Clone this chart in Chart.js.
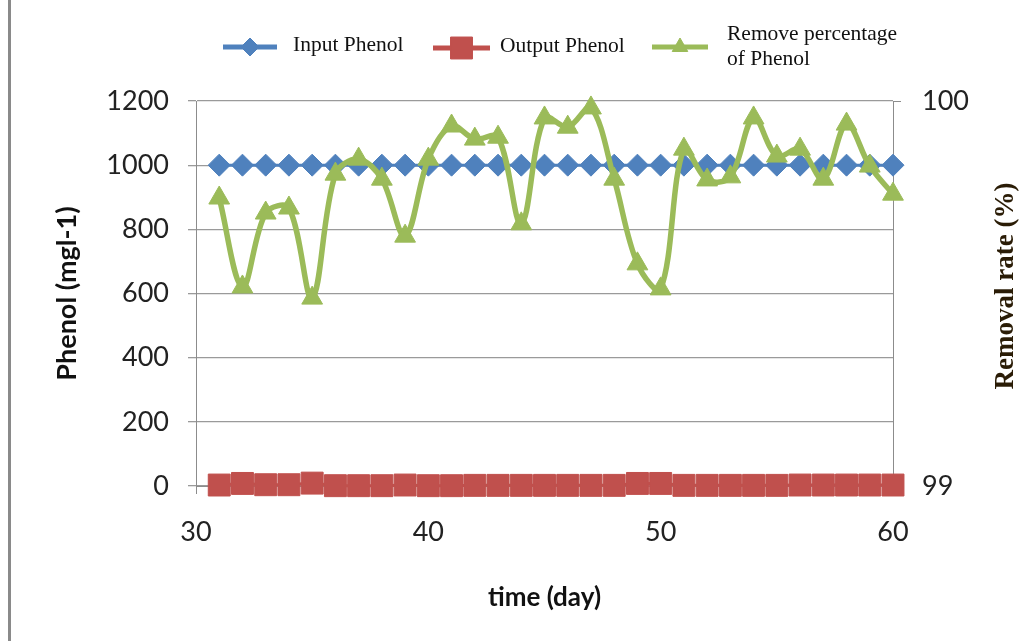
<!DOCTYPE html>
<html>
<head>
<meta charset="utf-8">
<title>Phenol removal</title>
<script src="https://cdn.jsdelivr.net/npm/chart.js@4.4.1/dist/chart.umd.min.js"></script>
<style>
  html, body { margin: 0; padding: 0; background: #ffffff; }
  #wrap { position: relative; width: 1021px; height: 641px; }
  #wrap canvas { position: absolute; left: 0; top: 0; }
  #frame { position: absolute; left: 8px; top: 0; width: 3px; height: 641px; background: #8a8a8a; }
</style>
</head>
<body>
<div id="wrap">
  <canvas id="chart" width="1021" height="641"></canvas>
  <div id="frame"></div>
</div>
<script>
// Sampling days
const days = [31, 32, 33, 34, 35, 36, 37, 38, 39, 40,
              41, 42, 43, 44, 45, 46, 47, 48, 49, 50,
              51, 52, 53, 54, 55, 56, 57, 58, 59, 60];

// Influent phenol concentration (mg/l)
const inputPhenol = [1000, 1000, 1000, 1000, 1000, 1000, 1000, 1000, 1000, 1000,
                     1000, 1000, 1000, 1000, 1000, 1000, 1000, 1000, 1000, 1000,
                     1000, 1000, 1000, 1000, 1000, 1000, 1000, 1000, 1000, 1000];

// Effluent phenol concentration (mg/l)
const outputPhenol = [3, 8, 4, 4, 9, 1, 1, 1, 3, 1,
                      1, 2, 2, 2, 2, 2, 2, 2, 8, 8,
                      2, 2, 2, 2, 2, 3, 3, 3, 3, 3];

// Removal percentage of phenol (%)
const removalRate = [99.748, 99.517, 99.709, 99.722, 99.488, 99.810, 99.849, 99.797, 99.649, 99.849,
                     99.935, 99.901, 99.906, 99.681, 99.956, 99.932, 99.982, 99.797, 99.577, 99.512,
                     99.875, 99.795, 99.803, 99.956, 99.857, 99.875, 99.797, 99.940, 99.831, 99.758];

// Axis ranges and tick steps
const dayRange = [30, 60];
const phenolRange = [0, 1200];
const rateRange = [99, 100];

const BLUE = '#4F81BD';
const RED = '#C0504D';
const GREEN = '#9BBB59';

const toPoints = (vals) => days.map((d, i) => ({ x: d, y: vals[i] }));
const plainNumber = (v) => String(v);

// Legend drawn across the top, with a two-line entry for the removal series
const topLegend = {
  id: 'topLegend',
  afterDraw(chart) {
    const ctx = chart.ctx;
    const entries = [
      { ds: 0, x1: 223, x2: 277, my: 47, marker: 9, lw: 5, tx: 293, lines: [[51, 'Input Phenol']] },
      { ds: 1, x1: 433, x2: 490, my: 48, marker: 15.5, lw: 5, tx: 500, lines: [[52, 'Output Phenol']] },
      { ds: 2, x1: 652, x2: 708, my: 47, marker: 9, lw: 5, tx: 727, lines: [[40, 'Remove percentage'], [65, 'of Phenol']] }
    ];
    ctx.save();
    entries.forEach(e => {
      const ds = chart.data.datasets[e.ds];
      ctx.strokeStyle = ds.borderColor;
      ctx.lineWidth = e.lw;
      ctx.beginPath();
      ctx.moveTo(e.x1, e.my);
      ctx.lineTo(e.x2, e.my);
      ctx.stroke();
      ctx.fillStyle = ds.pointBackgroundColor;
      ctx.strokeStyle = ds.pointBorderColor;
      ctx.lineWidth = 1;
      Chart.helpers.drawPoint(ctx, {
        pointStyle: ds.pointStyle, radius: e.marker, rotation: 0, borderWidth: 1
      }, (e.x1 + e.x2) / 2, e.my);
      ctx.fillStyle = '#111111';
      ctx.font = '21.5px "Liberation Serif", "Times New Roman", serif';
      ctx.textAlign = 'left';
      ctx.textBaseline = 'alphabetic';
      e.lines.forEach(([y, t]) => ctx.fillText(t, e.tx, y));
    });
    ctx.restore();
  }
};

// Title of the right-hand axis, reading upwards like the left one
const rightAxisTitle = {
  id: 'rightAxisTitle',
  afterDraw(chart) {
    const ctx = chart.ctx;
    ctx.save();
    ctx.translate(1006, 286);
    ctx.rotate(-Math.PI / 2);
    ctx.fillStyle = '#2a1c06';
    ctx.font = 'bold 27px "Liberation Serif", "Times New Roman", serif';
    ctx.textAlign = 'center';
    ctx.textBaseline = 'middle';
    ctx.fillText('Removal rate (%)', 0, 0);
    ctx.restore();
  }
};

const tickFont = { family: 'Lato', size: 27 };

new Chart(document.getElementById('chart'), {
  type: 'line',
  data: {
    datasets: [
      {
        label: 'Input Phenol',
        data: toPoints(inputPhenol),
        yAxisID: 'y',
        borderColor: BLUE,
        backgroundColor: BLUE,
        pointBackgroundColor: BLUE,
        pointBorderColor: BLUE,
        borderWidth: 3,
        pointStyle: 'rectRot',
        pointRadius: 11,
        pointBorderWidth: 1,
        tension: 0,
        clip: false,
        order: 2
      },
      {
        label: 'Output Phenol',
        data: toPoints(outputPhenol),
        yAxisID: 'y',
        borderColor: RED,
        backgroundColor: RED,
        pointBackgroundColor: RED,
        pointBorderColor: RED,
        borderWidth: 3,
        pointStyle: 'rect',
        pointRadius: 15.5,
        pointBorderWidth: 1,
        tension: 0,
        clip: false,
        order: 1
      },
      {
        label: 'Remove percentage of Phenol',
        data: toPoints(removalRate),
        yAxisID: 'y1',
        borderColor: GREEN,
        backgroundColor: GREEN,
        pointBackgroundColor: GREEN,
        pointBorderColor: GREEN,
        borderWidth: 5.5,
        pointStyle: 'triangle',
        pointRadius: 12,
        pointBorderWidth: 1,
        tension: 0.35,
        clip: false,
        order: 0
      }
    ]
  },
  options: {
    responsive: false,
    animation: false,
    events: [],
    layout: { padding: { top: 101, left: 0, right: 0, bottom: 0 } },
    plugins: {
      legend: { display: false },
      tooltip: { enabled: false }
    },
    scales: {
      x: {
        type: 'linear',
        min: dayRange[0],
        max: dayRange[1],
        afterFit: (s) => { s.height = 155; },
        ticks: { stepSize: 10, padding: 22, color: '#222222', font: tickFont, maxRotation: 0, callback: plainNumber },
        grid: { drawOnChartArea: false, drawTicks: true, tickLength: 8, color: '#8c8c8c' },
        border: { display: true, color: '#8c8c8c', width: 1 },
        title: {
          display: true,
          text: 'time (day)',
          color: '#111111',
          font: { family: 'Lato', size: 26, weight: 'bold', lineHeight: 1.2 },
          padding: { top: 0, bottom: 28 }
        }
      },
      y: {
        position: 'left',
        min: phenolRange[0],
        max: phenolRange[1],
        afterFit: (s) => { s.width = 196; },
        ticks: { stepSize: 200, padding: 19, color: '#222222', font: tickFont, callback: plainNumber },
        grid: { drawOnChartArea: true, drawTicks: true, tickLength: 8, color: '#9a9a9a', lineWidth: 1.3 },
        border: { display: true, color: '#8c8c8c', width: 1 },
        title: {
          display: true,
          text: 'Phenol (mgl-1)',
          color: '#111111',
          font: { family: 'Lato', size: 27, weight: 'bold', lineHeight: 1.2 },
          padding: { top: 51, bottom: 0 }
        }
      },
      y1: {
        position: 'right',
        min: rateRange[0],
        max: rateRange[1],
        afterFit: (s) => { s.width = 128; },
        ticks: { stepSize: 1, padding: 21, color: '#222222', font: tickFont, callback: plainNumber },
        grid: { drawOnChartArea: false, drawTicks: true, tickLength: 8, color: '#8c8c8c' },
        border: { display: true, color: '#8c8c8c', width: 1 },
        title: { display: false }
      }
    }
  },
  plugins: [topLegend, rightAxisTitle]
});
</script>
</body>
</html>
